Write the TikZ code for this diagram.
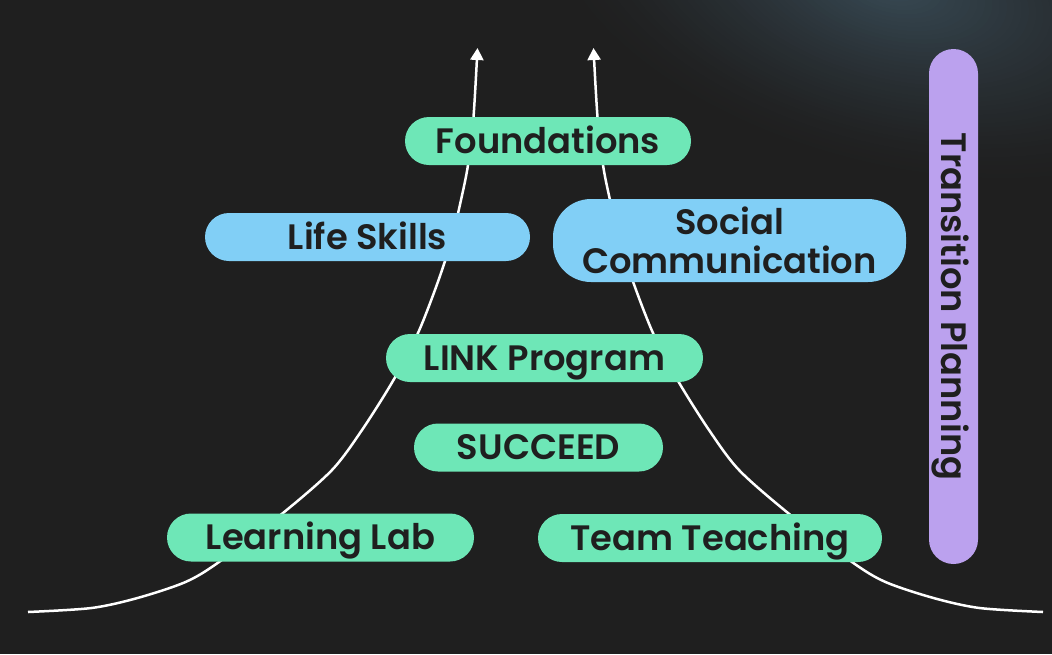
\documentclass[tikz,border=0pt]{standalone}
\usepackage{fontspec}
\newfontfamily\pop{Poppins SemiBold}
\usetikzlibrary{arrows.meta}
\definecolor{bgc}{HTML}{1F1F1F}
\definecolor{glowc}{HTML}{384A55}
\definecolor{greenc}{HTML}{6EE7B7}
\definecolor{bluec}{HTML}{81CFF6}
\definecolor{purplec}{HTML}{BBA1EE}
\definecolor{txtc}{HTML}{1F1F1F}
\tikzset{
  pill/.style={rounded corners=24pt, minimum height=48pt, inner sep=0pt,
    font=\pop\fontsize{35.3}{39}\selectfont, text=txtc, align=center},
  oneline/.style={text height=24.5pt, text depth=0pt},
  curve/.style={white, line width=2.5pt, -{Triangle[length=12pt,width=13pt]}},
}
\begin{document}
\begin{tikzpicture}[x=1pt,y=-1pt]
\useasboundingbox (0,0) rectangle (1052,654);
\fill[bgc] (0,0) rectangle (1052,654);
\begin{scope}
\clip (0,0) rectangle (1052,654);
\coordinate (glowcenter) at (890,-15);
\foreach \i in {1,...,48}{
  \pgfmathsetmacro\s{1-\i/48}
  \pgfmathsetmacro\p{100*(\i/48)^1.4}
  \fill[glowc!\p!bgc, rotate around={-15:(glowcenter)}] (glowcenter) ellipse [x radius=\s*360pt, y radius=\s*185pt];
}
\end{scope}
% curves
\coordinate (Lstart) at (28,612);
\coordinate (Ltip) at (477.5,48);
\coordinate (Rstart) at (1043,612);
\coordinate (Rtip) at (593.5,48);
\draw[curve] plot[smooth, tension=0.5] coordinates {(Lstart) (91.5,608) (137.5,598) (185.5,582) (219,562) (283,513) (332,470) (362,430) (393.5,380) (418,333) (437.5,283) (451.5,240) (461,200) (468,165) (473.5,117) (Ltip)};
\draw[curve] plot[smooth, tension=0.5] coordinates {(Rstart) (979.5,608) (933.5,598) (885.5,582) (852,562) (788,513) (739,470) (709,430) (677.5,380) (653,333) (633.5,283) (619.5,240) (610,200) (603,165) (597.5,117) (Rtip)};
% nodes
\node[pill, oneline, fill=greenc, minimum width=286pt] (found) at (548,141) {Foundations};
\node[pill, oneline, fill=bluec, minimum width=325pt] (life) at (367.5,237) {Life Skills};
\node[pill, fill=bluec, minimum width=353pt, minimum height=83pt, rounded corners=38pt] (social) at (729.5,240.5) {Social\\Communication};
\node[pill, oneline, fill=greenc, minimum width=317pt] (link) at (544.5,358) {LINK Program};
\node[pill, oneline, fill=greenc, minimum width=249pt] (succ) at (538.5,447.5) {SUCCEED};
\node[pill, oneline, fill=greenc, minimum width=307pt] (lab) at (320.5,537.5) {Learning Lab};
\node[pill, oneline, fill=greenc, minimum width=344pt] (team) at (710,538) {Team Teaching};
\node[pill, oneline, fill=purplec, minimum width=515pt, minimum height=49pt, rounded corners=24.5pt, rotate=-90] (trans) at (953.5,306.5) {Transition Planning};
\end{tikzpicture}
\end{document}
